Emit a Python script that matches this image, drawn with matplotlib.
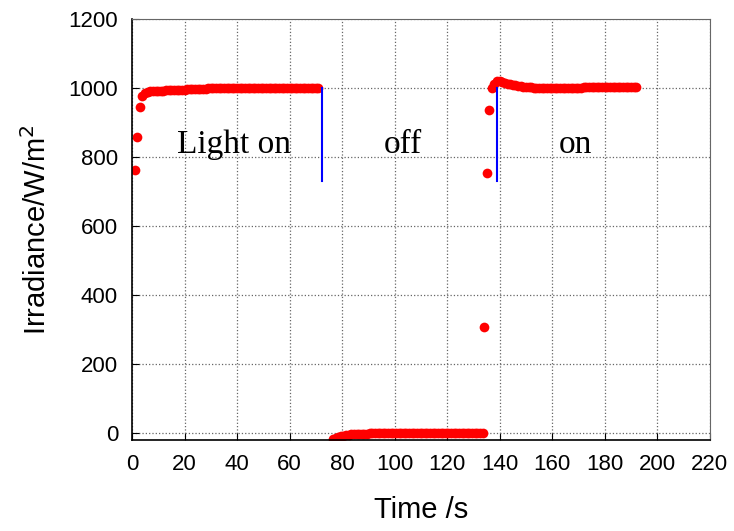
import numpy as np
import matplotlib.pyplot as plt

# first "light on" period, 1 s sampling from t = 1 s
irr_on1 = [762, 858, 945, 978, 986, 989, 990, 991, 991, 992,
           992, 992, 993, 993, 993, 994, 994, 994, 995, 995,
           996, 996, 996, 997, 997, 997, 998, 998, 999, 999,
           1000, 1000, 1000, 1000, 1000, 1000, 1000, 1000, 1000, 1000,
           1000, 1000, 1000, 1000, 1000, 1000, 1000, 1000, 1000, 1000,
           1000, 1000, 1000, 1000, 1000, 1000, 1000, 1000, 1000, 1000,
           1000, 1000, 1000, 1000, 1000, 1000, 1000, 1000, 1000, 1000,
           1000]
t_on1 = np.arange(1, 1 + len(irr_on1))

# light off, from t = 76.5 s
irr_off = [-17, -14, -11, -9, -7, -6, -5, -4, -4, -3,
           -3, -2, -2, -2, -1, -1, -1, -1, -1, 0,
           0, 0, 0, 0, 0, 0, 0, 0, 0, 0,
           0, 0, 0, 0, 0, 0, 0, 0, 0, 0,
           0, 0, 0, 0, 0, 0, 0, 0, 0, 0,
           0, 0, 0, 0, 0, 0, 0, 0]
t_off = np.arange(76.5, 76.5 + len(irr_off))

# second "on" period, from t = 134 s
irr_on2 = [307, 755, 935, 1000, 1012, 1020, 1019, 1017, 1015, 1013,
           1011, 1009, 1008, 1006, 1005, 1004, 1003, 1002, 1002, 1001,
           1001, 1000, 1000, 1000, 1000, 1000, 1000, 1000, 1000, 1000,
           1000, 1000, 1001, 1001, 1001, 1001, 1001, 1001, 1002, 1002,
           1002, 1002, 1002, 1002, 1002, 1002, 1002, 1002, 1002, 1002,
           1002, 1002, 1002, 1002, 1002, 1002, 1002, 1002, 1002]
t_on2 = np.arange(134, 134 + len(irr_on2))

switch_times = [72.3, 139]
switch_low, switch_high = 730, 1000

labels = ["Light on", "off", "on"]
label_x = [39, 103, 169]
label_y = 835

plt.rcParams["font.family"] = ["Liberation Sans", "DejaVu Sans"]

fig = plt.figure(figsize=(7.34, 5.31), dpi=100)
ax = fig.add_axes([0.1798, 0.1714, 0.7872, 0.7928])

ax.grid(True, linestyle=":", color="#666666", linewidth=0.9)
ax.set_axisbelow(True)

for t, v in [(t_on1, irr_on1), (t_off, irr_off), (t_on2, irr_on2)]:
    ax.plot(t, v, "o", color="red", markersize=7, markeredgewidth=0)

for xs in switch_times:
    ax.plot([xs, xs], [switch_low, switch_high], color="blue", linewidth=1.5)

for lab, x in zip(labels, label_x):
    ax.text(x, label_y, lab, ha="center", va="center", fontsize=24,
            family=["Liberation Serif", "DejaVu Serif"])

ax.set_xlim(0, 220)
ax.set_ylim(-20, 1200)
ax.set_xticks(np.arange(0, 221, 20))
ax.set_yticks(np.arange(0, 1201, 200))
ax.tick_params(direction="in", length=5, labelsize=16, pad=10,
               top=False, right=False)

for side in ["top", "right"]:
    ax.spines[side].set_color("#666666")
for side in ["left", "bottom"]:
    ax.spines[side].set_linewidth(1.2)

ax.set_xlabel("Time /s", fontsize=21, labelpad=15)
ax.set_ylabel("Irradiance/W/m$^2$", fontsize=21, labelpad=12)

plt.savefig("out.png", dpi=100)
